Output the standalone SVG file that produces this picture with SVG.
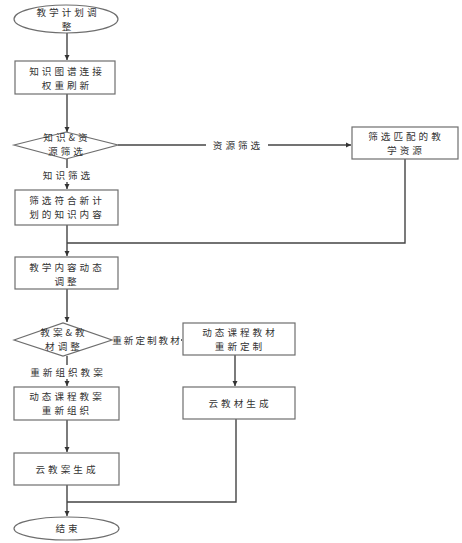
<svg xmlns="http://www.w3.org/2000/svg" width="462" height="543" viewBox="0 0 462 543">
<style>
.n{fill:#fff;stroke:#6e6e6e;stroke-width:1.2}
.t{font-family:"Noto Sans CJK SC","Liberation Sans",sans-serif;font-size:9.6px;fill:#333;text-anchor:middle;letter-spacing:3px}
.c{fill:none;stroke:#444;stroke-width:1.4}
.lb{fill:#fff}
</style>
<defs>
<marker id="a" markerWidth="6" markerHeight="6" refX="5" refY="3" orient="auto" markerUnits="userSpaceOnUse">
<path d="M0,0.5 L5,3 L0,5.5 Z" fill="#333"/>
</marker>
</defs>
<rect width="462" height="543" fill="#fff"/>
<g id="connectors">
<path class="c" d="M67,33 V60" marker-end="url(#a)"/>
<path class="c" d="M67,94 V132" marker-end="url(#a)"/>
<path class="c" d="M67,159 V189" marker-end="url(#a)"/>
<path class="c" d="M118,145 H351" marker-end="url(#a)"/>
<path class="c" d="M67,225 V256" marker-end="url(#a)"/>
<path class="c" d="M405,159 V243 H67"/>
<path class="c" d="M67,289 V322" marker-end="url(#a)"/>
<path class="c" d="M112,340 H182" marker-end="url(#a)"/>
<path class="c" d="M67,356 V386" marker-end="url(#a)"/>
<path class="c" d="M235,355 V386" marker-end="url(#a)"/>
<path class="c" d="M67,420 V452" marker-end="url(#a)"/>
<path class="c" d="M67,485 V516" marker-end="url(#a)"/>
<path class="c" d="M236,419 V502 H67"/>
<rect class="lb" x="36" y="168" width="62" height="14"/>
<text class="t" x="68" y="179">知识筛选</text>
<rect class="lb" x="206" y="138" width="62" height="14"/>
<text class="t" x="238" y="149">资源筛选</text>
<rect class="lb" x="112" y="333" width="69" height="14"/>
<text class="t" x="147" y="344" style="letter-spacing:2px">重新定制教材</text>
<rect class="lb" x="24" y="365" width="86" height="14"/>
<text class="t" x="68" y="376">重新组织教案</text>
</g>
<g id="start">
<rect class="n" x="14" y="5" width="104" height="28" rx="52" ry="14"/>
<text class="t" x="68" y="15.5">教学计划调<tspan x="68" dy="14">整</tspan></text>
</g>
<g id="kg">
<rect class="n" x="15" y="61" width="100" height="33"/>
<text class="t" x="67" y="75">知识图谱连接<tspan x="67" dy="14">权重刷新</tspan></text>
</g>
<g id="d1">
<polygon class="n" points="14,145 66,132 118,145 66,159"/>
<text class="t" x="67" y="141">知识&amp;资<tspan x="67" dy="14">源筛选</tspan></text>
</g>
<g id="res">
<rect class="n" x="352" y="127" width="106" height="32"/>
<text class="t" x="406" y="140">筛选匹配的教<tspan x="406" dy="14">学资源</tspan></text>
</g>
<g id="know">
<rect class="n" x="15" y="190" width="103" height="35"/>
<text class="t" x="67" y="204">筛选符合新计<tspan x="67" dy="14">划的知识内容</tspan></text>
</g>
<g id="adjust">
<rect class="n" x="15" y="257" width="103" height="32"/>
<text class="t" x="67" y="270.5">教学内容动态<tspan x="67" dy="14">调整</tspan></text>
</g>
<g id="d2">
<polygon class="n" points="14,340 63,323 112,340 63,356"/>
<text class="t" x="64" y="335.5">教案&amp;教<tspan x="64" dy="14">材调整</tspan></text>
</g>
<g id="mat">
<rect class="n" x="183" y="323" width="112" height="32"/>
<text class="t" x="240" y="335.5">动态课程教材<tspan x="240" dy="14">重新定制</tspan></text>
</g>
<g id="plan">
<rect class="n" x="14" y="387" width="105" height="33"/>
<text class="t" x="67" y="400">动态课程教案<tspan x="67" dy="14">重新组织</tspan></text>
</g>
<g id="cloudmat">
<rect class="n" x="183" y="387" width="112" height="32"/>
<text class="t" x="240" y="407">云教材生成</text>
</g>
<g id="cloudplan">
<rect class="n" x="14" y="453" width="105" height="32"/>
<text class="t" x="67" y="473">云教案生成</text>
</g>
<g id="end">
<rect class="n" x="14" y="517" width="105" height="23" rx="52" ry="11.5"/>
<text class="t" x="68" y="532">结束</text>
</g>
</svg>
